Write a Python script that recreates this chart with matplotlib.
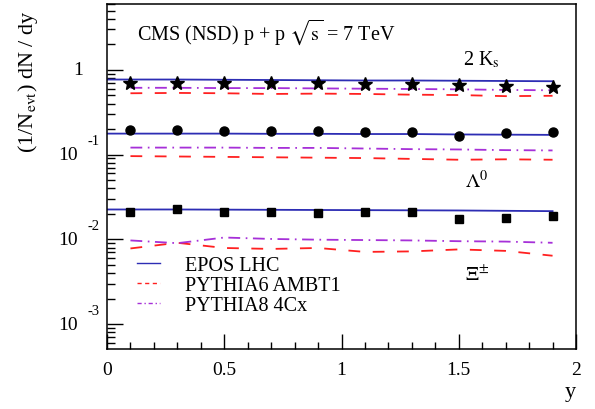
import numpy as np
import matplotlib
matplotlib.use("Agg")
import matplotlib.pyplot as plt
from matplotlib.ticker import MultipleLocator, LogLocator, NullFormatter

plt.rcParams['font.family'] = 'Liberation Serif'
plt.rcParams['mathtext.fontset'] = 'stix'
plt.rcParams['lines.scale_dashes'] = False

# rapidity bin centres
y_bins = [0.1, 0.3, 0.5, 0.7, 0.9, 1.1, 1.3, 1.5, 1.7, 1.9]
y_epos = [0.0] + y_bins

# CMS data (2 K_s, Lambda, Xi)
ks_data = [0.70, 0.70, 0.70, 0.70, 0.70, 0.69, 0.675, 0.66, 0.65, 0.63]
lam_data = [0.193, 0.193, 0.192, 0.191, 0.190, 0.186, 0.185, 0.168, 0.181, 0.184]
xi_data = [0.0212, 0.0225, 0.0212, 0.0208, 0.0206, 0.0208, 0.0212, 0.0172, 0.0180, 0.0190]

# EPOS LHC
ks_epos = [0.77, 0.77, 0.77, 0.765, 0.76, 0.755, 0.75, 0.75, 0.745, 0.74, 0.735]
lam_epos = [0.177, 0.177, 0.177, 0.177, 0.176, 0.176, 0.175, 0.175, 0.173, 0.172, 0.171]
xi_epos = [0.0225, 0.0225, 0.0225, 0.0224, 0.0223, 0.0222, 0.0221, 0.022, 0.0219, 0.0217, 0.0215]

# PYTHIA6 AMBT1
ks_p6 = [0.53, 0.535, 0.53, 0.52, 0.525, 0.52, 0.51, 0.505, 0.49, 0.495]
lam_p6 = [0.096, 0.095, 0.094, 0.093, 0.092, 0.091, 0.089, 0.087, 0.088, 0.087]
xi_p6 = [0.0078, 0.0091, 0.0079, 0.0077, 0.0079, 0.0071, 0.0072, 0.0076, 0.0073, 0.0064]

# PYTHIA8 4Cx
ks_p8 = [0.615, 0.615, 0.61, 0.61, 0.605, 0.60, 0.595, 0.59, 0.58, 0.575]
lam_p8 = [0.121, 0.121, 0.121, 0.12, 0.12, 0.118, 0.116, 0.115, 0.113, 0.112]
xi_p8 = [0.0097, 0.0090, 0.0105, 0.0101, 0.0099, 0.0098, 0.0097, 0.0095, 0.0094, 0.0091]

yticks = [1e-3, 1e-2, 1e-1, 1]
ytick_base = ['10', '10', '10', '1']
ytick_exp = ['-3', '-2', '-1', '']

blue = '#2d2db4'
red = '#ff2020'
purple = '#a630d8'

fig = plt.figure(figsize=(5.95, 4.10), dpi=100)
ax = fig.add_axes([107/595, 1-350/410, 469/595, 345/410])

ax.set_yscale('log')
ax.set_xlim(0, 2)
ax.set_ylim(5.07e-4, 6.0)

lw = 1.3
dash_red = (0, (8.5, 9))
dash_pur = (0, (8.5, 4, 1.2, 4))

for ep, p6, p8 in [(ks_epos, ks_p6, ks_p8), (lam_epos, lam_p6, lam_p8), (xi_epos, xi_p6, xi_p8)]:
    ax.plot(y_epos, ep, color=blue, lw=lw)
    ax.plot(y_bins, p6, color=red, lw=lw, linestyle=dash_red)
    ax.plot(y_bins, p8, color=purple, lw=lw, linestyle=dash_pur)

ax.plot(y_bins, ks_data, '*', color='black', ms=10, zorder=5)
ax.plot(y_bins, lam_data, 'o', color='black', ms=6.5, zorder=5)
ax.plot(y_bins, xi_data, 's', color='black', ms=6, zorder=5)

# legend
h1, = ax.plot([], [], color=blue, lw=1.0)
h2, = ax.plot([], [], color=red, lw=1.0, linestyle=(0, (3, 2.5)))
h3, = ax.plot([], [], color=purple, lw=1.0, linestyle=(0, (3, 2, 1, 2)))
ax.legend([h1, h2, h3], ['EPOS LHC', 'PYTHIA6 AMBT1', 'PYTHIA8 4Cx'],
          loc='upper left', bbox_to_anchor=(0.064, 0.27), frameon=False,
          fontsize=14.5, handlelength=1.15, handletextpad=1.25,
          labelspacing=0.05, borderpad=0, borderaxespad=0)

# axes styling
for s in ax.spines.values():
    s.set_linewidth(1.1)
ax.tick_params(which='both', direction='in', top=False, right=False, width=1.0)
ax.tick_params(axis='x', which='major', length=11, pad=9, labelsize=14)
ax.tick_params(axis='x', which='minor', length=5)
ax.tick_params(axis='y', which='major', length=11.5)
ax.tick_params(axis='y', which='minor', length=5.8)
ax.xaxis.set_major_locator(MultipleLocator(0.5))
ax.xaxis.set_minor_locator(MultipleLocator(0.1))
ax.set_xticks([0, 0.5, 1, 1.5, 2])
ax.set_xticklabels(['0', '0.5', '1', '1.5', '2'])
ax.yaxis.set_major_locator(LogLocator(base=10, numticks=10))
ax.yaxis.set_minor_locator(LogLocator(base=10, subs=np.arange(2, 10), numticks=20))
ax.set_yticks(yticks)
ax.yaxis.set_major_formatter(NullFormatter())
ax.yaxis.set_minor_formatter(NullFormatter())

# ROOT-style y tick labels
for v, b, e in zip(yticks, ytick_base, ytick_exp):
    if e:
        ax.annotate(b, xy=(0, v), xycoords=('axes fraction', 'data'),
                    xytext=(-29, 0), textcoords='offset pixels',
                    ha='right', va='center', fontsize=14)
        ax.annotate(e, xy=(0, v), xycoords=('axes fraction', 'data'),
                    xytext=(-20, 14), textcoords='offset pixels',
                    ha='left', va='center', fontsize=10.5)
    else:
        ax.annotate(b, xy=(0, v), xycoords=('axes fraction', 'data'),
                    xytext=(-24, 0), textcoords='offset pixels',
                    ha='right', va='center', fontsize=14)

ax.set_ylabel(r'(1/N$_{\rm evt}$) dN / dy', fontsize=16, loc='top')
ax.yaxis.set_label_coords(-0.143, 0.985)
ax.set_xlabel('y', fontsize=16, loc='right')
ax.xaxis.set_label_coords(1.0, -0.095)

ax.text(0.064, 0.899, r'CMS (NSD) p + p $\sqrt{\rm s}$ = 7 TeV', transform=ax.transAxes,
        fontsize=14.5, va='baseline')
ax.text(0.759, 0.826, r'2 K$_{\rm s}$', transform=ax.transAxes, fontsize=14.5, va='baseline')
ax.text(0.763, 0.470, r'$\Lambda^{0}$', transform=ax.transAxes, fontsize=14.5, va='baseline')
ax.text(0.763, 0.200, r'$\Xi^{\pm}$', transform=ax.transAxes, fontsize=14.5, va='baseline')

fig.savefig('out.png', dpi=100)
